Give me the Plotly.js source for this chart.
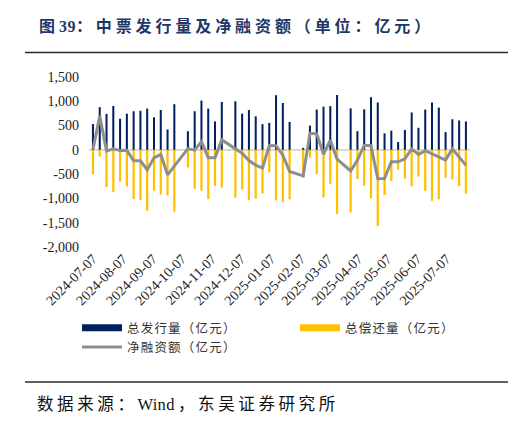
<!DOCTYPE html>
<html>
<head>
<meta charset="utf-8">
<script src="https://cdn.plot.ly/plotly-3.0.1.min.js"></script>
<style>
  html, body { margin: 0; padding: 0; background: #fff; }
  #chart { width: 514px; height: 429px; }
  .annotation[data-index="0"] .annotation-text { letter-spacing: 3.9px; }
  .annotation[data-index="1"] .annotation-text { letter-spacing: 3.6px; }
  .legendtext { letter-spacing: 1.2px; }
</style>
</head>
<body>
<div id="chart"></div>
<script>
// Weekly dates (holiday / no-data weeks are absent)
const dates = [
  '2024-07-07','2024-07-14','2024-07-21','2024-07-28','2024-08-04','2024-08-11','2024-08-18','2024-08-25',
  '2024-09-01','2024-09-08','2024-09-15','2024-09-22','2024-09-29',
  '2024-10-13','2024-10-20','2024-10-27','2024-11-03','2024-11-10','2024-11-17',
  '2024-12-01','2024-12-08','2024-12-15','2024-12-22','2024-12-29',
  '2025-01-05','2025-01-12','2025-01-19','2025-01-26',
  '2025-02-09','2025-02-16','2025-02-23','2025-03-02','2025-03-09','2025-03-16',
  '2025-03-30','2025-04-06','2025-04-13','2025-04-20','2025-04-27',
  '2025-05-04','2025-05-11','2025-05-18','2025-05-25','2025-06-01','2025-06-08','2025-06-15','2025-06-22','2025-06-29',
  '2025-07-06','2025-07-13','2025-07-20','2025-07-27'
];
// 总发行量（亿元）
const issuance = [
  530, 880, 740, 905, 640, 745, 795, 805,
  850, 670, 820, 420, 940,
  385, 795, 1015, 850, 585, 985,
  1000, 745, 820, 690, 530,
  555, 1125, 965, 575,
  40, 500, 830, 890, 900, 1130,
  855, 385, 835, 1085, 975,
  340, 395, 160, 410, 770, 455, 830, 975, 870,
  365, 630, 605, 585
];
// 总偿还量（亿元）
const repayment = [
  -505, -140, -765, -870, -655, -755, -1015, -1030,
  -1255, -840, -920, -940, -1275,
  -360, -800, -840, -1015, -745, -780,
  -985, -815, -1040, -1005, -900,
  -465, -1040, -1075, -1020,
  -575, -160, -500, -980, -700, -1320,
  -1290, -600, -740, -1000, -1570,
  -930, -640, -405, -595, -750, -550, -845, -1050, -1020,
  -575, -610, -745, -905
];
// 净融资额（亿元）
const netFinancing = [
  10, 700, -25, 20, -15, -10, -225, -225,
  -410, -165, -95, -515, -335,
  25, -5, 170, -160, -160, 205,
  15, -70, -220, -315, -375,
  90, 85, -110, -445,
  -535, 340, 330, -90, 200, -190,
  -435, -215, 95, 85, -595,
  -590, -245, -245, -185, 20, -95, -15, -75, -150,
  -210, 20, -140, -320
];
const xTickVals = ['2024-07-07','2024-08-07','2024-09-07','2024-10-07','2024-11-07','2024-12-07',
  '2025-01-07','2025-02-07','2025-03-07','2025-04-07','2025-05-07','2025-06-07','2025-07-07'];
const xTickText = xTickVals.slice();
const yTickVals = [1500, 1000, 500, 0, -500, -1000, -1500, -2000];
const yTickText = ['1,500','1,000','500','0','-500','-1,000','-1,500','-2,000'];

const seriesNames = ['总发行量（亿元）', '总偿还量（亿元）', '净融资额（亿元）'];
const titleHTML = '<b>图<span style="letter-spacing:0.5px">39</span>：中票发行量及净融资额（单位：亿元）</b>';
const sourceHTML = '数据来源：<span style="letter-spacing:0.3px">Win</span>d，东吴证券研究所';

const NAVY = '#002060', GOLD = '#FFC000', GREY = '#8E8E8E';
const DAY = 86400000;

// plot-area geometry helpers (pixels -> paper)
const L = 89, R = 44, T = 77, B = 182, W = 514, H = 429;
const pw = W - L - R, ph = H - T - B;
const px = v => (v - L) / pw;
const py = v => (H - B - v) / ph;

const traces = [
  { type: 'bar', x: dates, y: issuance, name: seriesNames[0], showlegend: false,
    marker: { color: NAVY, line: { width: 0 } }, width: 2.1 * DAY, hoverinfo: 'x+y' },
  { type: 'bar', x: dates, y: repayment, name: seriesNames[1], showlegend: false,
    marker: { color: GOLD, line: { width: 0 } }, width: 2.3 * DAY, hoverinfo: 'x+y' },
  // legend-only entries drawn as wide swatches like the reference
  { type: 'scatter', mode: 'lines', x: [null], y: [null], name: seriesNames[0],
    line: { color: NAVY, width: 7 }, hoverinfo: 'skip' },
  { type: 'scatter', mode: 'lines', x: [null], y: [null], name: seriesNames[1],
    line: { color: GOLD, width: 7 }, hoverinfo: 'skip' },
  { type: 'scatter', mode: 'lines', x: dates, y: netFinancing, name: seriesNames[2],
    line: { color: GREY, width: 3 } }
];

const layout = {
  width: W, height: H,
  margin: { l: L, r: R, t: T, b: B, pad: 0 },
  paper_bgcolor: '#ffffff', plot_bgcolor: '#ffffff',
  barmode: 'overlay',
  showlegend: true,
  font: { family: 'Liberation Serif, "Noto Sans CJK SC", serif', color: '#222' },
  xaxis: {
    type: 'date',
    range: ['2024-07-02 22:00', '2025-07-31 05:00'],
    tickmode: 'array', tickvals: xTickVals, ticktext: xTickText,
    tickangle: -45, showgrid: false, zeroline: false, showline: false, ticks: '',
    tickfont: { family: 'Liberation Serif, serif', size: 14, color: '#222' },
    fixedrange: true
  },
  yaxis: {
    range: [-2000, 1500],
    tickmode: 'array', tickvals: yTickVals, ticktext: yTickText,
    showgrid: false, zeroline: true, zerolinecolor: '#D9D9D9', zerolinewidth: 2,
    showline: false, ticks: '', ticklabelstandoff: 9,
    tickfont: { family: 'Liberation Serif, serif', size: 14, color: '#222' },
    fixedrange: true
  },
  legend: {
    orientation: 'h',
    x: px(77), xanchor: 'left',
    y: py(313), yanchor: 'top',
    itemwidth: 40,
    entrywidth: 163, entrywidthmode: 'pixels',
    font: { family: '"Noto Sans CJK SC", sans-serif', size: 12.5, color: '#333' },
    bgcolor: 'rgba(0,0,0,0)', borderwidth: 0,
    traceorder: 'normal', itemclick: false, itemdoubleclick: false
  },
  annotations: [
    { xref: 'paper', yref: 'paper', x: px(37), y: py(26), xanchor: 'left', yanchor: 'middle', align: 'left',
      text: titleHTML, showarrow: false,
      font: { family: 'Liberation Serif, "Noto Sans CJK SC", serif', size: 16, color: '#1F3766' } },
    { xref: 'paper', yref: 'paper', x: px(35), y: py(404), xanchor: 'left', yanchor: 'middle', align: 'left',
      text: sourceHTML, showarrow: false,
      font: { family: 'Liberation Serif, "Noto Sans CJK SC", serif', size: 16.5, color: '#111' } }
  ],
  shapes: [
    { type: 'line', xref: 'paper', yref: 'paper', x0: px(25), x1: px(508), y0: py(52.5), y1: py(52.5),
      line: { color: '#2b2b2b', width: 1.3 } },
    { type: 'line', xref: 'paper', yref: 'paper', x0: px(25), x1: px(508), y0: py(382), y1: py(382),
      line: { color: '#2b2b2b', width: 1.3 } }
  ]
};

Plotly.newPlot('chart', traces, layout, { displayModeBar: false, staticPlot: true });
</script>
</body>
</html>
